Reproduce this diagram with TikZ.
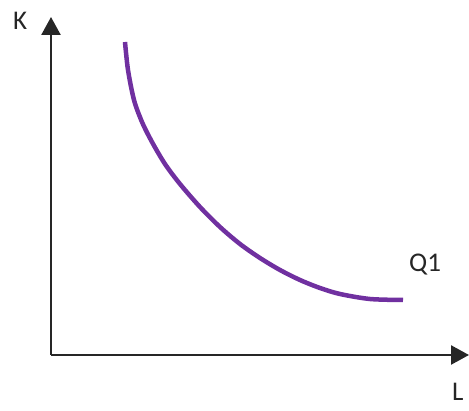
\documentclass[tikz,border=0pt]{standalone}
\usepackage{fontspec}
\setmainfont{Carlito}
\usetikzlibrary{arrows.meta}
\definecolor{curvepurple}{HTML}{7030A0}
\begin{document}
\begin{tikzpicture}[x=1pt,y=-1pt,
  axis/.style={draw=black!85, line width=2.4pt, -{Triangle[length=18pt,width=19pt]}},
  lbl/.style={font=\fontsize{27}{30}\selectfont, text=black!85, inner sep=0pt},
  curve/.style={draw=curvepurple, line width=4.5pt}]
\useasboundingbox (0,0) rectangle (469,411);
\coordinate (O) at (51,355);
\coordinate (Ktip) at (51,17);
\coordinate (Ltip) at (469,355);
\draw[axis] (O) -- (Ktip);
\draw[axis] (O) -- (Ltip);
\node[lbl, anchor=base west] (K) at (13,30) {K};
\node[lbl, anchor=base west] (L) at (452,401) {L};
\node[lbl, anchor=base west] (Q) at (409,272) {Q1};
\draw[curve] plot[smooth, tension=0.5] coordinates {(125,42) (128,70) (134,100) (142,122) (152,142) (165,164) (180,184) (200,207) (220,227) (240,244) (260,258) (280,270) (300,280) (320,288) (340,294) (370,299) (403,300)};
\end{tikzpicture}
\end{document}
